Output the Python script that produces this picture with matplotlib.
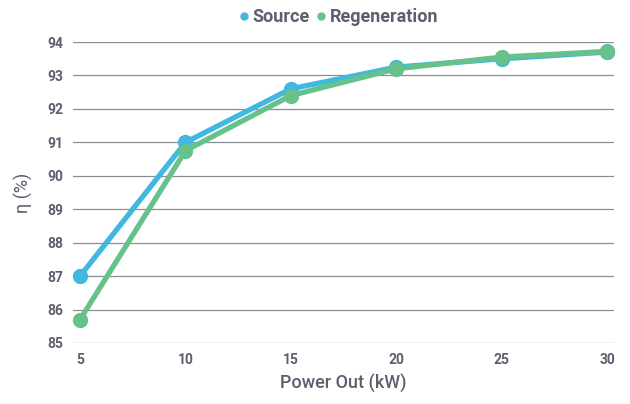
import matplotlib.pyplot as plt
from matplotlib.lines import Line2D

power_kw = [5, 10, 15, 20, 25, 30]
source = [87.0, 91.0, 92.6, 93.25, 93.5, 93.7]
regeneration = [85.7, 90.75, 92.4, 93.2, 93.55, 93.72]
y_ticks = [85, 86, 87, 88, 89, 90, 91, 92, 93, 94]

blue = "#41b8e0"
green = "#66c28a"
text_gray = "#5c5f6c"
grid_gray = "#8a8c96"

plt.rcParams["font.family"] = ["Roboto", "DejaVu Sans"]

fig = plt.figure(figsize=(6.3, 4.04), dpi=100)
ax = fig.add_axes([0.116, 0.151, 0.859, 0.745])

ax.plot(power_kw, source, color=blue, lw=3.8, marker="o", ms=10,
        solid_capstyle="round", clip_on=False, zorder=3)
ax.plot(power_kw, regeneration, color=green, lw=3.8, marker="o", ms=10,
        solid_capstyle="round", clip_on=False, zorder=4)

ax.set_xlim(4.67, 30.33)
ax.set_ylim(85, 94)
ax.set_xticks(power_kw)
ax.set_yticks(y_ticks)
ax.grid(axis="y", color=grid_gray, lw=0.9)
ax.set_axisbelow(True)
for s in ax.spines.values():
    s.set_visible(False)
ax.tick_params(length=0, labelsize=10, labelcolor=text_gray, pad=7)
for lab in ax.get_xticklabels() + ax.get_yticklabels():
    lab.set_fontweight("bold")

ax.set_xlabel("Power Out (kW)", fontsize=13, color=text_gray, fontweight="medium", labelpad=5)
ax.set_ylabel("η (%)", fontsize=13, color=text_gray, labelpad=10)

handles = [Line2D([], [], ls="none", marker="o", ms=5, color=blue),
           Line2D([], [], ls="none", marker="o", ms=5, color=green)]
leg = fig.legend(handles, ["Source", "Regeneration"], loc="center",
                 bbox_to_anchor=(0.535, 0.957), ncol=2, frameon=False,
                 handletextpad=0.0, columnspacing=0.2, handlelength=0.9,
                 prop={"size": 13, "weight": "bold"})
for t in leg.get_texts():
    t.set_color(text_gray)

fig.savefig("out.png", dpi=100)
